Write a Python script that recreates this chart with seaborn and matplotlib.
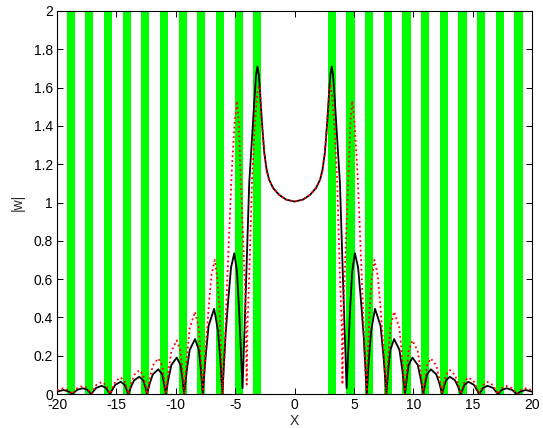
import numpy as np
import pandas as pd
import matplotlib
matplotlib.use('Agg')
import matplotlib.pyplot as plt
import seaborn as sns

# giao dien kieu matlab
sns.set_style('ticks')
plt.rcParams['font.family'] = ['Liberation Sans', 'DejaVu Sans']
plt.rcParams['xtick.direction'] = 'in'
plt.rcParams['ytick.direction'] = 'in'

# vach xanh (tam cac dai)
stripe_centers = [-18.85, -17.28, -15.71, -14.14, -12.57, -11.0, -9.42, -7.85, -6.28, -4.71, -3.14,
                  3.14, 4.71, 6.28, 7.85, 9.42, 11.0, 12.57, 14.14, 15.71, 17.28, 18.85]
stripe_width = 0.68

# duong den (nua trai va nua phai)
bk_x_left = [-20.0, -19.47, -19.05, -18.71,
             -18.3, -17.84, -17.45, -17.12,
             -16.7, -16.24, -15.88, -15.55,
             -15.1, -14.64, -14.3, -14.0,
             -13.75, -13.5, -13.07, -12.75, -12.58, -12.42,
             -12.18, -11.93, -11.47, -11.15, -11.0, -10.84,
             -10.6, -10.37, -9.92, -9.6, -9.45, -9.3,
             -9.06, -8.83, -8.38, -8.06, -7.89, -7.73,
             -7.48, -7.24, -6.77, -6.45, -6.25, -6.08,
             -5.82, -5.6, -5.35, -5.08, -4.85, -4.68, -4.52, -4.38,
             -4.1, -3.82, -3.6, -3.4, -3.25, -3.13, -3.02, -2.93, -2.75, -2.55,
             -2.35, -2.15, -1.8, -1.3, -0.7, 0.0]
bk_y_left = [0.012, 0.021, 0.014, 0.0,
             0.022, 0.030, 0.022, 0.0,
             0.032, 0.043, 0.032, 0.0,
             0.048, 0.064, 0.048, 0.0,
             0.040, 0.072, 0.090, 0.072, 0.040, 0.0,
             0.058, 0.103, 0.129, 0.103, 0.058, 0.0,
             0.085, 0.152, 0.190, 0.152, 0.085, 0.0,
             0.129, 0.230, 0.287, 0.230, 0.129, 0.0,
             0.200, 0.356, 0.445, 0.330, 0.180, 0.0,
             0.300, 0.480, 0.660, 0.735, 0.640, 0.450, 0.230, 0.030,
             0.550, 1.100, 1.320, 1.520, 1.660, 1.710, 1.670, 1.600, 1.420, 1.260,
             1.170, 1.120, 1.075, 1.040, 1.015, 1.005]
bk_x_right = [0.7, 1.3, 1.8, 2.15, 2.35,
              2.55, 2.75, 2.93, 3.02, 3.13, 3.25, 3.4, 3.6, 3.82, 4.1,
              4.38, 4.52, 4.68, 4.85, 5.08, 5.35, 5.6, 5.82,
              6.08, 6.25, 6.45, 6.77, 7.24, 7.48,
              7.73, 7.89, 8.06, 8.38, 8.83, 9.06,
              9.3, 9.45, 9.6, 9.92, 10.37, 10.6,
              10.84, 11.0, 11.15, 11.47, 11.93, 12.18,
              12.42, 12.58, 12.75, 13.07, 13.5, 13.75,
              14.0, 14.3, 14.64, 15.1,
              15.55, 15.88, 16.24, 16.7,
              17.12, 17.45, 17.84, 18.3,
              18.71, 19.05, 19.47, 20.0]
bk_y_right = [1.015, 1.040, 1.075, 1.120, 1.170,
              1.260, 1.420, 1.600, 1.670, 1.710, 1.660, 1.520, 1.320, 1.100, 0.550,
              0.030, 0.230, 0.450, 0.640, 0.735, 0.660, 0.480, 0.300,
              0.0, 0.180, 0.330, 0.445, 0.356, 0.200,
              0.0, 0.129, 0.230, 0.287, 0.230, 0.129,
              0.0, 0.085, 0.152, 0.190, 0.152, 0.085,
              0.0, 0.058, 0.103, 0.129, 0.103, 0.058,
              0.0, 0.040, 0.072, 0.090, 0.072, 0.040,
              0.0, 0.048, 0.064, 0.048,
              0.0, 0.032, 0.043, 0.032,
              0.0, 0.022, 0.030, 0.022,
              0.0, 0.014, 0.021, 0.012]

# duong do cham
rd_x_left = [-20.0, -19.47, -19.05, -18.71,
             -18.3, -17.84, -17.45, -17.12,
             -16.7, -16.24, -15.88, -15.55,
             -15.1, -14.64, -14.3, -14.0,
             -13.75, -13.5, -13.07, -12.75, -12.58, -12.42,
             -12.18, -11.93, -11.47, -11.15, -11.0, -10.84,
             -10.6, -10.37, -9.92, -9.6, -9.45, -9.3,
             -9.06, -8.83, -8.38, -8.06, -7.89, -7.73,
             -7.48, -7.22, -7.0, -6.72, -6.5, -6.32, -6.18, -6.08,
             -5.9, -5.76, -5.53, -5.3, -5.05, -4.85, -4.7, -4.54, -4.32, -4.12, -4.03,
             -3.97, -3.8, -3.58, -3.35, -3.15, -3.02, -2.93, -2.75, -2.55,
             -2.35, -2.15, -1.8, -1.3, -0.7, 0.0]
rd_y_left = [0.020, 0.030, 0.020, 0.0,
             0.031, 0.042, 0.031, 0.0,
             0.047, 0.063, 0.047, 0.0,
             0.065, 0.087, 0.065, 0.0,
             0.056, 0.100, 0.125, 0.100, 0.056, 0.0,
             0.084, 0.149, 0.186, 0.149, 0.084, 0.0,
             0.126, 0.224, 0.280, 0.224, 0.126, 0.0,
             0.194, 0.344, 0.430, 0.344, 0.194, 0.0,
             0.250, 0.460, 0.620, 0.700, 0.600, 0.450, 0.220, 0.0,
             0.200, 0.456, 0.800, 1.150, 1.420, 1.530, 1.420, 1.150, 0.800, 0.456, 0.050,
             0.350, 0.650, 1.120, 1.400, 1.560, 1.610, 1.600, 1.420, 1.260,
             1.170, 1.120, 1.075, 1.040, 1.015, 1.005]
rd_x_right = [0.7, 1.3, 1.8, 2.15, 2.35,
              2.55, 2.75, 2.93, 3.02, 3.15, 3.35, 3.58, 3.8, 3.97,
              4.03, 4.12, 4.32, 4.54, 4.7, 4.85, 5.05, 5.3, 5.53, 5.76, 5.9,
              6.08, 6.18, 6.32, 6.5, 6.72, 7.0, 7.22, 7.48,
              7.73, 7.89, 8.06, 8.38, 8.83, 9.06,
              9.3, 9.45, 9.6, 9.92, 10.37, 10.6,
              10.84, 11.0, 11.15, 11.47, 11.93, 12.18,
              12.42, 12.58, 12.75, 13.07, 13.5, 13.75,
              14.0, 14.3, 14.64, 15.1,
              15.55, 15.88, 16.24, 16.7,
              17.12, 17.45, 17.84, 18.3,
              18.71, 19.05, 19.47, 20.0]
rd_y_right = [1.015, 1.040, 1.075, 1.120, 1.170,
              1.260, 1.420, 1.600, 1.610, 1.560, 1.400, 1.120, 0.650, 0.350,
              0.050, 0.456, 0.800, 1.150, 1.420, 1.530, 1.420, 1.150, 0.800, 0.456, 0.200,
              0.0, 0.220, 0.450, 0.600, 0.700, 0.620, 0.460, 0.250,
              0.0, 0.194, 0.344, 0.430, 0.344, 0.194,
              0.0, 0.126, 0.224, 0.280, 0.224, 0.126,
              0.0, 0.084, 0.149, 0.186, 0.149, 0.084,
              0.0, 0.056, 0.100, 0.125, 0.100, 0.056,
              0.0, 0.065, 0.087, 0.065,
              0.0, 0.047, 0.063, 0.047,
              0.0, 0.031, 0.042, 0.031,
              0.0, 0.020, 0.030, 0.020]

x_ticks = [-20, -15, -10, -5, 0, 5, 10, 15, 20]
x_tick_labels = ['-20', '-15', '-10', '-5', '0', '5', '10', '15', '20']
y_ticks = [0, 0.2, 0.4, 0.6, 0.8, 1.0, 1.2, 1.4, 1.6, 1.8, 2.0]
y_tick_labels = ['0', '0.2', '0.4', '0.6', '0.8', '1', '1.2', '1.4', '1.6', '1.8', '2']

black = pd.DataFrame({'X': bk_x_left + bk_x_right, 'w': bk_y_left + bk_y_right})
red = pd.DataFrame({'X': rd_x_left + rd_x_right, 'w': rd_y_left + rd_y_right})

fig = plt.figure(figsize=(5.43, 4.28), dpi=100)
ax = fig.add_axes([0.105, 0.0794, 0.875, 0.8949])

for c in stripe_centers:
    ax.axvspan(c - stripe_width / 2, c + stripe_width / 2, color='#00ff00', lw=0, zorder=0.5)

sns.lineplot(data=black, x='X', y='w', ax=ax, color='black', lw=1.3,
             sort=False, estimator=None, zorder=2)
sns.lineplot(data=red, x='X', y='w', ax=ax, color='red', lw=1.3, linestyle=':',
             sort=False, estimator=None, zorder=3)

ax.set_xlim(-20, 20)
ax.set_ylim(0, 2)
ax.set_xticks(x_ticks)
ax.set_xticklabels(x_tick_labels)
ax.set_yticks(y_ticks)
ax.set_yticklabels(y_tick_labels)
ax.tick_params(axis='both', which='both', direction='in', length=4, width=0.7,
               top=True, right=True, labelsize=10, pad=3, colors='black')
for s in ax.spines.values():
    s.set_visible(True)
    s.set_color('black')
    s.set_linewidth(0.8)

ax.set_xlabel('X', fontsize=10, labelpad=1)
ax.set_ylabel('|w|', fontsize=10, labelpad=6)

fig.savefig('out.png', dpi=100)
